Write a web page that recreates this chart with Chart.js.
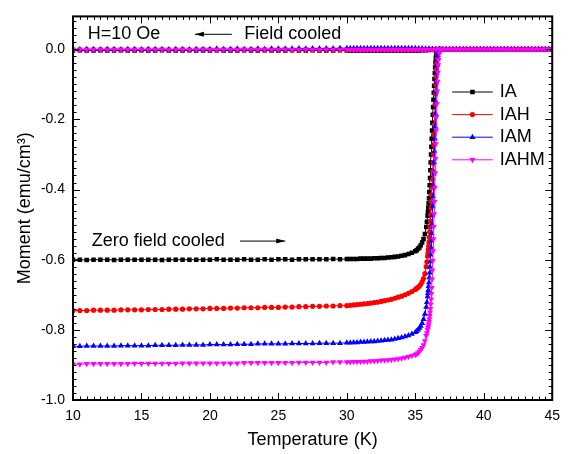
<!DOCTYPE html>
<html>
<head>
<meta charset="utf-8">
<script src="https://cdn.jsdelivr.net/npm/chart.js"></script>
<style>
  html, body { margin: 0; padding: 0; background: #fff; }
  #wrap { width: 568px; height: 454px; }
</style>
</head>
<body>
<div id="wrap"><canvas id="chart" width="568" height="454"></canvas></div>
<script>
// ---- data ----
const sampleNames = ["IA", "IAH", "IAM", "IAHM"];

// zero field cooled: temperature grid (K)
const zfcTemp = [
  10, 10.5, 11, 11.5, 12, 12.5, 13, 13.5, 14, 14.5,
  15, 15.5, 16, 16.5, 17, 17.5, 18, 18.5, 19, 19.5,
  20, 20.5, 21, 21.5, 22, 22.5, 23, 23.5, 24, 24.5,
  25, 25.5, 26, 26.5, 27, 27.5, 28, 28.5, 29, 29.5,
  30,
  30.25, 30.5, 30.75, 31, 31.25, 31.5, 31.75, 32, 32.25, 32.5,
  32.75, 33, 33.25, 33.5, 33.75, 34, 34.25, 34.5, 34.75, 35,
  35.1, 35.2, 35.3, 35.4, 35.5, 35.6, 35.7, 35.8, 35.85,
  35.9, 35.925, 35.95, 35.975, 36.0, 36.025, 36.05, 36.075,
  36.1, 36.125, 36.15, 36.175, 36.2, 36.225, 36.25, 36.275,
  36.3, 36.325, 36.35, 36.375, 36.4, 36.425, 36.45, 36.475,
  36.5, 36.525, 36.55, 36.575, 36.6, 36.625, 36.65, 36.675,
  36.7, 36.75, 36.8
];

const zfcIA = [
  -0.600, -0.600, -0.601, -0.600, -0.600, -0.600, -0.601, -0.600, -0.600, -0.600,
  -0.600, -0.600, -0.600, -0.601, -0.600, -0.600, -0.600, -0.600, -0.600, -0.600,
  -0.600, -0.599, -0.600, -0.600, -0.600, -0.599, -0.600, -0.600, -0.599, -0.600,
  -0.599, -0.599, -0.600, -0.599, -0.599, -0.599, -0.599, -0.599, -0.598, -0.599,
  -0.598,
  -0.598, -0.598, -0.598, -0.597, -0.597, -0.597, -0.597, -0.596, -0.596, -0.595,
  -0.595, -0.594, -0.593, -0.592, -0.591, -0.589, -0.587, -0.584, -0.580, -0.576,
  -0.573, -0.569, -0.565, -0.559, -0.551, -0.541, -0.527, -0.507, -0.492,
  -0.475, -0.464, -0.452, -0.439, -0.425, -0.407, -0.388, -0.367,
  -0.345, -0.323, -0.300, -0.278, -0.255, -0.232, -0.210, -0.187,
  -0.165, -0.144, -0.124, -0.104, -0.085, -0.068, -0.052, -0.038,
  -0.025, -0.016, -0.009, -0.006, -0.004, -0.002, -0.001, 0,
  0, 0, 0
];

const zfcIAH = [
  -0.745, -0.745, -0.745, -0.744, -0.744, -0.744, -0.744, -0.743, -0.743, -0.743,
  -0.743, -0.742, -0.742, -0.742, -0.741, -0.741, -0.741, -0.740, -0.740, -0.740,
  -0.739, -0.739, -0.739, -0.738, -0.738, -0.737, -0.737, -0.737, -0.736, -0.736,
  -0.736, -0.735, -0.735, -0.734, -0.734, -0.733, -0.733, -0.732, -0.732, -0.731,
  -0.731,
  -0.730, -0.729, -0.728, -0.727, -0.726, -0.725, -0.724, -0.722, -0.721, -0.719,
  -0.717, -0.715, -0.713, -0.710, -0.707, -0.704, -0.700, -0.696, -0.691, -0.685,
  -0.682, -0.679, -0.675, -0.670, -0.663, -0.654, -0.640, -0.620, -0.606,
  -0.590, -0.581, -0.571, -0.561, -0.550, -0.536, -0.521, -0.506,
  -0.490, -0.472, -0.453, -0.434, -0.415, -0.393, -0.371, -0.348,
  -0.325, -0.298, -0.271, -0.243, -0.215, -0.186, -0.157, -0.128,
  -0.100, -0.078, -0.057, -0.040, -0.025, -0.015, -0.008, -0.004,
  -0.002, 0, 0
];

const zfcIAM = [
  -0.847, -0.847, -0.846, -0.846, -0.846, -0.846, -0.846, -0.845, -0.845, -0.845,
  -0.845, -0.845, -0.844, -0.844, -0.844, -0.844, -0.843, -0.843, -0.843, -0.843,
  -0.842, -0.842, -0.842, -0.842, -0.841, -0.841, -0.841, -0.840, -0.840, -0.840,
  -0.840, -0.840, -0.839, -0.839, -0.839, -0.839, -0.838, -0.838, -0.838, -0.838,
  -0.837,
  -0.837, -0.836, -0.836, -0.835, -0.835, -0.834, -0.833, -0.833, -0.832, -0.831,
  -0.830, -0.829, -0.828, -0.826, -0.824, -0.822, -0.819, -0.816, -0.812, -0.807,
  -0.804, -0.800, -0.795, -0.789, -0.781, -0.770, -0.755, -0.735, -0.721,
  -0.705, -0.696, -0.687, -0.676, -0.665, -0.651, -0.637, -0.621,
  -0.605, -0.586, -0.566, -0.546, -0.525, -0.500, -0.474, -0.447,
  -0.420, -0.388, -0.355, -0.322, -0.290, -0.255, -0.220, -0.185,
  -0.150, -0.121, -0.093, -0.067, -0.045, -0.029, -0.017, -0.010,
  -0.005, -0.001, 0
];

const zfcIAHM = [
  -0.898, -0.898, -0.897, -0.897, -0.897, -0.897, -0.897, -0.897, -0.897, -0.896,
  -0.896, -0.896, -0.896, -0.896, -0.896, -0.896, -0.895, -0.895, -0.895, -0.895,
  -0.895, -0.895, -0.895, -0.895, -0.895, -0.894, -0.894, -0.894, -0.894, -0.894,
  -0.894, -0.894, -0.894, -0.893, -0.893, -0.893, -0.893, -0.893, -0.892, -0.892,
  -0.892,
  -0.892, -0.891, -0.891, -0.891, -0.890, -0.890, -0.889, -0.889, -0.888, -0.887,
  -0.887, -0.886, -0.885, -0.884, -0.883, -0.881, -0.879, -0.877, -0.874, -0.871,
  -0.869, -0.866, -0.862, -0.857, -0.851, -0.843, -0.832, -0.817, -0.809,
  -0.800, -0.795, -0.790, -0.784, -0.777, -0.769, -0.760, -0.750,
  -0.740, -0.727, -0.713, -0.697, -0.680, -0.656, -0.630, -0.603,
  -0.575, -0.541, -0.506, -0.470, -0.435, -0.394, -0.353, -0.312,
  -0.270, -0.231, -0.193, -0.156, -0.120, -0.092, -0.066, -0.045,
  -0.030, -0.012, 0
];

// field cooled: temperature grid (K)
const fcTemp = [
  10, 10.5, 11, 11.5, 12, 12.5, 13, 13.5, 14, 14.5,
  15, 15.5, 16, 16.5, 17, 17.5, 18, 18.5, 19, 19.5,
  20, 20.5, 21, 21.5, 22, 22.5, 23, 23.5, 24, 24.5,
  25, 25.5, 26, 26.5, 27, 27.5, 28, 28.5, 29, 29.5,
  30, 30.25, 30.5, 30.75, 31, 31.25, 31.5, 31.75, 32, 32.25,
  32.5, 32.75, 33, 33.25, 33.5, 33.75, 34, 34.25, 34.5, 34.75,
  35, 35.25, 35.5, 35.75, 36, 36.25, 36.5, 36.75, 37, 37.25,
  37.5, 37.75, 38, 38.25, 38.5, 38.75, 39, 39.25, 39.5, 39.75,
  40, 40.25, 40.5, 40.75, 41, 41.25, 41.5, 41.75, 42, 42.25,
  42.5, 42.75, 43, 43.25, 43.5, 43.75, 44, 44.25, 44.5, 44.75,
  45
];

const fcIA = [
  -0.004, -0.003, -0.004, -0.004, -0.003, -0.004, -0.004, -0.003, -0.004, -0.004,
  -0.003, -0.004, -0.004, -0.003, -0.004, -0.004, -0.004, -0.003, -0.004, -0.004,
  -0.004, -0.003, -0.004, -0.004, -0.004, -0.003, -0.004, -0.004, -0.003, -0.004,
  -0.004, -0.004, -0.003, -0.004, -0.004, -0.003, -0.004, -0.004, -0.004, -0.003,
  -0.004, -0.004, -0.004, -0.004, -0.004, -0.004, -0.004, -0.004, -0.004, -0.004,
  -0.004, -0.004, -0.004, -0.004, -0.004, -0.004, -0.004, -0.004, -0.004, -0.004,
  -0.004, -0.004, -0.003, -0.003, -0.002, -0.001, 0, 0, 0, 0,
  0, 0, 0, 0, 0, 0, 0, 0, 0, 0,
  0, 0, 0, 0, 0, 0, 0, 0, 0, 0,
  0, 0, 0, 0, 0, 0, 0, 0, 0, 0,
  0
];

const fcIAH = [
  -0.001, -0.002, -0.001, -0.001, -0.002, -0.001, -0.001, -0.002, -0.001, -0.001,
  -0.002, -0.001, -0.001, -0.001, -0.002, -0.001, -0.001, -0.002, -0.001, -0.001,
  -0.001, -0.002, -0.001, -0.001, -0.001, -0.002, -0.001, -0.001, -0.002, -0.001,
  -0.001, -0.001, -0.002, -0.001, -0.001, -0.001, -0.002, -0.001, -0.001, -0.001,
  -0.001, -0.001, -0.001, -0.001, -0.001, -0.001, -0.001, -0.001, -0.001, -0.001,
  -0.001, -0.001, -0.001, -0.001, -0.001, -0.001, -0.001, -0.001, -0.001, -0.001,
  -0.001, -0.001, -0.001, -0.001, 0, 0, 0, 0, 0, 0,
  0, 0, 0, 0, 0, 0, 0, 0, 0, 0,
  0, 0, 0, 0, 0, 0, 0, 0, 0, 0,
  0, 0, 0, 0, 0, 0, 0, 0, 0, 0,
  0
];

const fcIAM = [
  0.000, -0.001, 0.000, 0.000, -0.001, 0.000, 0.000, -0.001, 0.000, 0.000,
  -0.001, 0.000, 0.000, 0.000, -0.001, 0.000, 0.000, -0.001, 0.000, 0.000,
  0.000, 0.001, 0.000, 0.000, 0.001, 0.000, 0.000, 0.001, 0.000, 0.001,
  0.001, 0.001, 0.001, 0.002, 0.001, 0.002, 0.002, 0.002, 0.002, 0.003,
  0.003, 0.003, 0.003, 0.003, 0.003, 0.003, 0.003, 0.003, 0.003, 0.003,
  0.003, 0.003, 0.003, 0.003, 0.003, 0.003, 0.003, 0.003, 0.003, 0.003,
  0.003, 0.002, 0.002, 0.001, 0.001, 0, 0, 0, 0, 0,
  0, 0, 0, 0, 0, 0, 0, 0, 0, 0,
  0, 0, 0, 0, 0, 0, 0, 0, 0, 0,
  0, 0, 0, 0, 0, 0, 0, 0, 0, 0,
  0
];

const fcIAHM = [
  -0.001, 0.000, -0.001, -0.001, 0.000, -0.001, -0.001, 0.000, -0.001, -0.001,
  0.000, -0.001, -0.001, 0.000, -0.001, -0.001, 0.000, -0.001, -0.001, 0.000,
  -0.001, -0.001, 0.000, -0.001, -0.001, 0.000, -0.001, -0.001, 0.000, -0.001,
  -0.001, 0.000, -0.001, -0.001, 0.000, -0.001, -0.001, 0.000, -0.001, -0.001,
  -0.001, -0.001, -0.001, -0.001, -0.001, -0.001, -0.001, -0.001, -0.001, -0.001,
  -0.001, -0.001, -0.001, -0.001, -0.001, -0.001, -0.001, -0.001, -0.001, -0.001,
  -0.001, -0.001, -0.001, -0.001, -0.001, -0.001, 0, 0, 0, 0,
  0, 0, 0, 0, 0, 0, 0, 0, 0, 0,
  0, 0, 0, 0, 0, 0, 0, 0, 0, 0,
  0, 0, 0, 0, 0, 0, 0, 0, 0, 0,
  0
];

const xTickLabels = [10, 15, 20, 25, 30, 35, 40, 45];
const yTickLabels = [0.0, -0.2, -0.4, -0.6, -0.8, -1.0];

// ---- styling ----
const FONT = '"Liberation Sans", Arial, Helvetica, sans-serif';
Chart.defaults.font.family = FONT;
Chart.defaults.color = "#000";

const styles = [
  { color: "#000000", pointStyle: "rect", rotation: 0, radius: 3.2 },
  { color: "#ff0000", pointStyle: "circle", rotation: 0, radius: 2.6 },
  { color: "#0000ff", pointStyle: "triangle", rotation: 0, radius: 3.5 },
  { color: "#ff00ff", pointStyle: "triangle", rotation: 180, radius: 3.5 }
];

function series(label, temps, values, i) {
  const s = styles[i];
  return {
    label: label,
    data: temps.map((t, k) => ({ x: t, y: values[k] })),
    borderColor: s.color,
    backgroundColor: s.color,
    pointStyle: s.pointStyle,
    rotation: s.rotation,
    pointRadius: s.radius,
    pointBorderWidth: 0,
    pointHoverRadius: s.radius,
    borderWidth: 1,
    showLine: true,
    order: 3 - i   // magenta on top, black at the bottom
  };
}

const zfcSets = [zfcIA, zfcIAH, zfcIAM, zfcIAHM];
const fcSets = [fcIA, fcIAH, fcIAM, fcIAHM];
const datasets = [];
sampleNames.forEach((name, i) => {
  datasets.push(series(name, zfcTemp, zfcSets[i], i));
  datasets.push(series(name + " FC", fcTemp, fcSets[i], i));
});

function drawMarker(ctx, s, x, y) {
  ctx.fillStyle = s.color;
  ctx.beginPath();
  if (s.pointStyle === "rect") {
    const h = s.radius * Math.SQRT1_2;
    ctx.rect(x - h, y - h, 2 * h, 2 * h);
  } else if (s.pointStyle === "circle") {
    ctx.arc(x, y, s.radius, 0, Math.PI * 2);
  } else {
    const r = s.radius;
    const dir = s.rotation === 180 ? -1 : 1;
    ctx.moveTo(x, y - dir * r);
    ctx.lineTo(x + r * 0.866, y + dir * r * 0.5);
    ctx.lineTo(x - r * 0.866, y + dir * r * 0.5);
    ctx.closePath();
  }
  ctx.fill();
}

function arrow(ctx, x1, x2, y) {
  // arrow drawn from x1 to x2, head at x2
  ctx.beginPath();
  ctx.moveTo(x1, y);
  ctx.lineTo(x2, y);
  ctx.stroke();
  const d = x2 > x1 ? 1 : -1;
  ctx.beginPath();
  ctx.moveTo(x2, y);
  ctx.lineTo(x2 - d * 9, y - 2.5);
  ctx.lineTo(x2 - d * 9, y + 2.5);
  ctx.closePath();
  ctx.fill();
}

const decor = {
  id: "decor",
  afterDatasetsDraw(chart) {
    const { ctx, chartArea: a, scales: { x, y } } = chart;
    ctx.save();
    ctx.strokeStyle = "#000";
    ctx.fillStyle = "#000";

    // inward ticks on all four sides
    ctx.lineWidth = 1;
    ctx.beginPath();
    for (let k = 0; k <= 70; k++) {
      const v = 10 + k * 0.5;
      const px = Math.round(x.getPixelForValue(v)) + 0.5;
      const len = k % 10 === 0 ? 7 : 3.5;
      ctx.moveTo(px, a.bottom); ctx.lineTo(px, a.bottom - len);
      ctx.moveTo(px, a.top); ctx.lineTo(px, a.top + len);
    }
    for (let k = 0; k <= 54; k++) {
      const v = -1 + k * 0.02;
      const py = Math.round(y.getPixelForValue(v)) + 0.5;
      const len = k % 10 === 0 ? 7 : 3.5;
      ctx.moveTo(a.left, py); ctx.lineTo(a.left + len, py);
      ctx.moveTo(a.right, py); ctx.lineTo(a.right - len, py);
    }
    ctx.stroke();

    // frame
    ctx.lineWidth = 2;
    ctx.strokeRect(a.left, a.top, a.right - a.left, a.bottom - a.top);

    // annotations
    ctx.font = "18px " + FONT;
    ctx.textBaseline = "middle";
    ctx.textAlign = "left";
    ctx.lineWidth = 1;
    const yTop = y.getPixelForValue(0.0425);
    ctx.fillText("H=10 Oe", x.getPixelForValue(11.08), yTop);
    arrow(ctx, x.getPixelForValue(21.6), x.getPixelForValue(18.9), yTop);
    ctx.fillText("Field cooled", x.getPixelForValue(22.5), yTop);
    const yZ = y.getPixelForValue(-0.547);
    ctx.fillText("Zero field cooled", x.getPixelForValue(11.37), yZ);
    arrow(ctx, x.getPixelForValue(22.2), x.getPixelForValue(25.5), yZ);

    // legend
    const lx1 = x.getPixelForValue(37.69), lx2 = x.getPixelForValue(40.66);
    const lm = (lx1 + lx2) / 2;
    const tx = x.getPixelForValue(41.16);
    sampleNames.forEach((name, i) => {
      const s = styles[i];
      const py = y.getPixelForValue(-0.122) + i * 22.6;
      ctx.strokeStyle = s.color;
      ctx.lineWidth = 1;
      ctx.beginPath();
      ctx.moveTo(lx1, py); ctx.lineTo(lx2, py);
      ctx.stroke();
      drawMarker(ctx, s, lm, py);
      ctx.fillStyle = "#000";
      ctx.fillText(name, tx, py);
    });
    ctx.restore();
  }
};

new Chart(document.getElementById("chart"), {
  type: "scatter",
  data: { datasets: datasets },
  options: {
    responsive: false,
    animation: false,
    layout: { padding: { top: 14, right: 11, left: 0, bottom: 0 } },
    plugins: { legend: { display: false }, tooltip: { enabled: false } },
    scales: {
      x: {
        type: "linear",
        min: 10,
        max: 45,
        afterBuildTicks: (s) => { s.ticks = xTickLabels.map(v => ({ value: v })); },
        afterFit: (s) => { s.height = 54; },
        grid: { display: false, drawTicks: false },
        border: { display: false },
        ticks: { font: { size: 14 }, color: "#000", padding: 8, maxRotation: 0, autoSkip: false,
                 callback: (v) => String(v) },
        title: { display: true, text: "Temperature (K)", font: { size: 18 }, color: "#000",
                 padding: { top: 0, bottom: 3 } }
      },
      y: {
        type: "linear",
        min: -1.0,
        max: 0.0935,
        afterBuildTicks: (s) => { s.ticks = yTickLabels.map(v => ({ value: v })); },
        afterFit: (s) => { s.width = 73; },
        grid: { display: false, drawTicks: false },
        border: { display: false },
        ticks: { font: { size: 14 }, color: "#000", padding: 8, autoSkip: false,
                 callback: (v) => v.toFixed(1) },
        title: { display: true, text: "Moment (emu/cm³)", font: { size: 18 }, color: "#000",
                 padding: { top: 14, bottom: 0 } }
      }
    }
  },
  plugins: [decor]
});
</script>
</body>
</html>
